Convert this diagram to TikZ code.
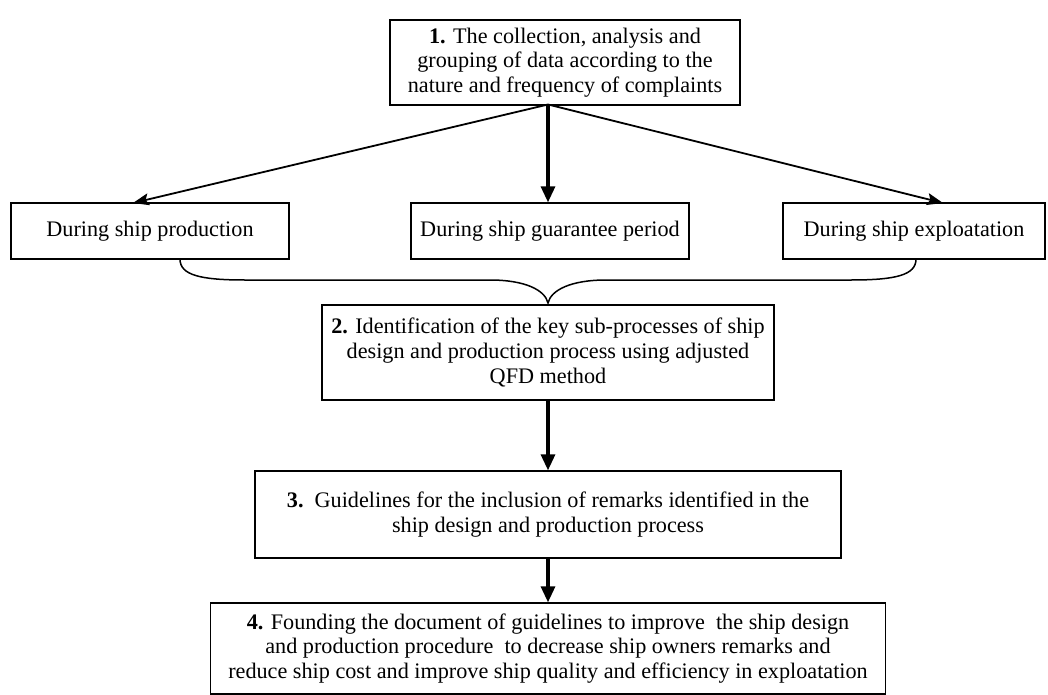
\documentclass[tikz,border=0pt]{standalone}
\usepackage{fontspec}
\setmainfont{Liberation Serif}
\usetikzlibrary{arrows.meta,calc}
\begin{document}
\begin{tikzpicture}[x=1pt,y=-1pt,
  box/.style={draw,line width=1.3pt,inner sep=0pt,align=center,
    font=\fontsize{22.2}{24.8}\selectfont},
  thinarrow/.style={line width=1.8pt,-{Stealth[length=16pt,width=12pt,inset=3pt]}},
  thickarrow/.style={line width=3.2pt,-{Triangle[length=16pt,width=14pt]}},
  bracepath/.style={line width=1.5pt}]
\useasboundingbox (0,0) rectangle (1048,695);
\node[box,minimum width=350pt,minimum height=85pt] (b1) at (565,62.5)
  {\textbf{1.} The collection, analysis and\\grouping of data according to the\\nature and frequency of complaints};
\node[box,minimum width=278pt,minimum height=56pt] (p1) at (150,231) {During ship production};
\node[box,minimum width=278pt,minimum height=56pt] (p2) at (550,231) {During ship guarantee period};
\node[box,minimum width=262pt,minimum height=56pt] (p3) at (914,231) {During ship exploatation};
\node[box,minimum width=452pt,minimum height=95pt] (b2) at (548,352.5)
  {\textbf{2.} Identification of the key sub-processes of ship\\design and production process using adjusted\\QFD method};
\node[box,minimum width=586pt,minimum height=87pt] (b3) at (548,514.5)
  {\textbf{3.}\ \ Guidelines for the inclusion of remarks identified in the\\ship design and production process};
\node[box,minimum width=675pt,minimum height=91pt] (b4) at (548,648.5)
  {\textbf{4.} Founding the document of guidelines to improve\ \ the ship design\\and production procedure\ \ to decrease ship owners remarks and\\reduce ship cost and improve ship quality and efficiency in exploatation};
\coordinate (apex) at (548,104.5);
\coordinate (t1) at (133,203);
\coordinate (t3) at (943,203);
\coordinate (bs) at (180,259);
\coordinate (be) at (916,259);
\coordinate (tip) at (548,303);
\draw[thinarrow] (apex) -- (t1);
\draw[thickarrow] (apex) -- (apex |- p2.north);
\draw[thinarrow] (apex) -- (t3);
\draw[bracepath] (bs) .. controls (180,275) and (200,280) .. (245,280)
  -- (490,280) .. controls (525,280) and (545,290) .. (tip)
  .. controls (551,290) and (571,280) .. (606,280)
  -- (851,280) .. controls (896,280) and (916,275) .. (be);
\draw[thickarrow] (b2.south) -- (b3.north);
\draw[thickarrow] (b3.south) -- (b4.north);
\end{tikzpicture}
\end{document}
